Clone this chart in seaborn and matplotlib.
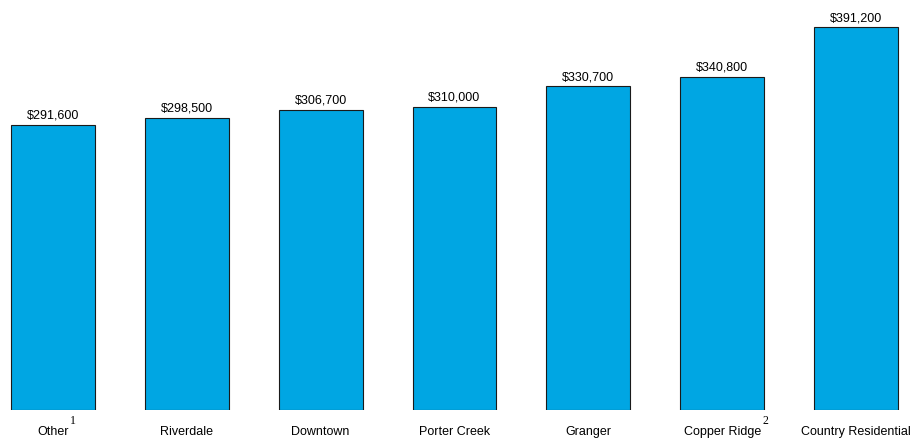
import matplotlib
matplotlib.use("Agg")
import matplotlib.pyplot as plt
import seaborn as sns
import pandas as pd

categories = ["Other", "Riverdale", "Downtown", "Porter Creek", "Granger", "Copper Ridge", "Country Residential"]
values = [291600, 298500, 306700, 310000, 330700, 340800, 391200]
footnotes = ["1", "", "", "", "", "2", ""]

sns.set_theme(style="white")
plt.rcParams['font.family'] = ['Liberation Sans', 'DejaVu Sans']

df = pd.DataFrame({"area": categories, "price": values})

fig = plt.figure(figsize=(9.11, 4.39), dpi=100)
ax = fig.add_axes([0, 28/439, 1, 411/439])
sns.barplot(data=df, x="area", y="price", color="#00A6E3", width=0.627,
            edgecolor="#1a1a1a", linewidth=0.8, saturation=1, ax=ax)
ax.set_xlim(-0.395, 6.41)
ax.set_ylim(0, 420000)
for s in ax.spines.values():
    s.set_visible(False)
ax.set_yticks([])
ax.set_xlabel("")
ax.set_ylabel("")
ax.tick_params(axis="x", length=0, pad=10.5, labelsize=9, colors="black")
for c in ax.containers:
    ax.bar_label(c, labels=[f"${v:,.0f}" for v in values], padding=3, fontsize=9, color="black")

fig.canvas.draw()
for lbl, fn in zip(ax.get_xticklabels(), footnotes):
    if fn:
        ax.annotate(fn, xy=(1, 1), xycoords=lbl, xytext=(1, -1), textcoords="offset points",
                    ha="left", va="bottom", fontsize=8.5, family="Liberation Serif", color="black",
                    annotation_clip=False)

fig.savefig("out.png", dpi=100)
